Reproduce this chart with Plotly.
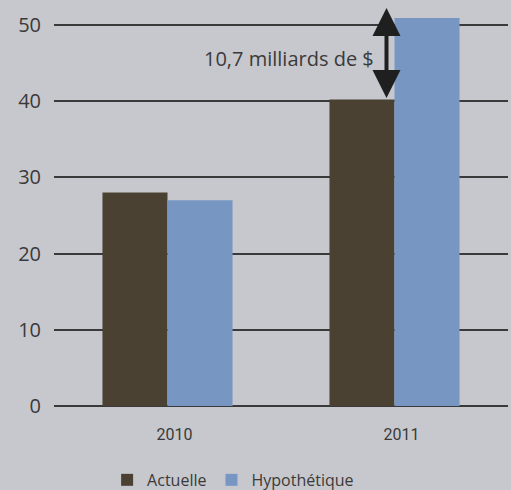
import plotly.graph_objects as go

# Values in billions of dollars
years = ["2010", "2011"]
actuelle = [28.0, 40.2]
hypothetique = [27.0, 50.9]
y_ticks = [0, 10, 20, 30, 40, 50]
series_names = ["Actuelle", "Hypothétique"]
gap_label = "10,7 milliards de $"

BG = "#c7c8cd"
BROWN = "#4b4133"
BLUE = "#7797c2"
INK = "#3a3a3a"
GRID = "#3a3a3a"
TEXT_FONT = "Open Sans"
NARROW_FONT = "Roboto"

fig = go.Figure()
fig.add_trace(go.Bar(x=years, y=actuelle, name=series_names[0],
                     marker=dict(color=BROWN, line=dict(width=0))))
fig.add_trace(go.Bar(x=years, y=hypothetique, name=series_names[1],
                     marker=dict(color=BLUE, line=dict(width=0))))

# Double-headed arrow showing the gap in 2011
gap = round(hypothetique[1] - actuelle[1], 1)
fig.add_annotation(x=1, y=actuelle[1] + gap + 1.3, ax=1, ay=actuelle[1],
                   xref="x", yref="y", axref="x", ayref="y",
                   xshift=-8, text="", showarrow=True,
                   arrowhead=2, startarrowhead=2, arrowside="end+start",
                   arrowsize=1.4, startarrowsize=1.4, arrowwidth=4,
                   arrowcolor="#1f1f1f", standoff=0, startstandoff=0)
fig.add_annotation(x=1, y=(actuelle[1] + hypothetique[1]) / 2, xref="x", yref="y",
                   xshift=-19, xanchor="right", yanchor="middle",
                   text=gap_label, showarrow=False,
                   font=dict(family=TEXT_FONT, size=20, color=INK))

fig.update_layout(
    width=511, height=490,
    margin=dict(l=54, r=3, t=2, b=84, autoexpand=False),
    paper_bgcolor=BG, plot_bgcolor=BG,
    barmode="group", bargap=0.427, bargroupgap=0,
    showlegend=True,
    legend=dict(orientation="h", x=0.117, xanchor="left", y=-0.183, yanchor="middle",
                font=dict(family=TEXT_FONT, size=16, color=INK),
                bgcolor="rgba(0,0,0,0)", itemwidth=30),
    font=dict(family=TEXT_FONT, color=INK),
)
fig.update_xaxes(showgrid=False, showline=False, zeroline=False, ticks="",
                 automargin=False,
                 tickfont=dict(family=NARROW_FONT, size=16, color=INK),
                 ticklabelstandoff=17, ticklabelshift=7)
fig.update_yaxes(range=[0, 53], tickvals=y_ticks, showgrid=True,
                 automargin=False,
                 gridcolor=GRID, gridwidth=1.5,
                 zeroline=True, zerolinecolor=GRID, zerolinewidth=1.5,
                 showline=False, ticks="",
                 tickfont=dict(family=TEXT_FONT, size=20, color=INK),
                 ticklabelstandoff=12)

fig.write_html("out.html")
